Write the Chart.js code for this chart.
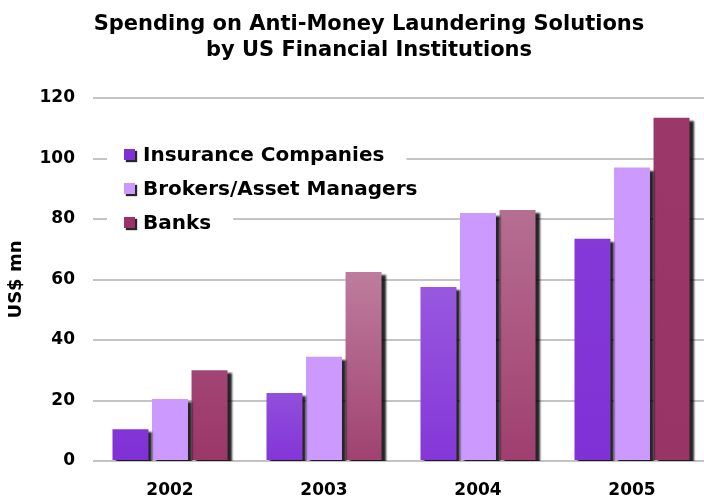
<!DOCTYPE html>
<html>
<head>
<meta charset="utf-8">
<script src="https://cdn.jsdelivr.net/npm/chart.js@4"></script>
<style>
  html, body { margin: 0; padding: 0; background: #fff; overflow: hidden; }
  #wrap { width: 712px; height: 499px; }
</style>
</head>
<body>
<div id="wrap"><canvas id="amlChart" width="712" height="499"></canvas></div>
<script>
// data (US$ mn)
const years = ['2002', '2003', '2004', '2005'];
const insurance = [10.5, 22.5, 57.5, 73.5];
const brokers = [20.5, 34.5, 82, 97];
const banks = [30, 62.5, 83, 113.5];
const seriesNames = ['Insurance Companies', 'Brokers/Asset Managers', 'Banks'];
const titleLines = ['Spending on Anti-Money Laundering Solutions', 'by US Financial Institutions'];

const baseColors = ['#7F2FD6', '#CC99FF', '#993366'];
const glow = [0.3, 0, 0.45];   // how much a bar top lightens near the highlight
const FONT = '"DejaVu Sans", Verdana, sans-serif';

function mix(hex, amount) {
    const n = parseInt(hex.slice(1), 16);
    const r = (n >> 16) & 255, g = (n >> 8) & 255, b = n & 255;
    const m = function (c) { return Math.round(c + (255 - c) * amount); };
    return 'rgb(' + m(r) + ',' + m(g) + ',' + m(b) + ')';
}

// vertical gradient per bar; tops near the middle of the plot are lighter
function barFill(i) {
    return function (context) {
        const chart = context.chart;
        if (!chart.chartArea || context.raw == null || glow[i] === 0) return baseColors[i];
        const y = chart.scales.y;
        const top = y.getPixelForValue(context.raw);
        const bottom = y.getPixelForValue(0);
        const meta = chart.getDatasetMeta(context.datasetIndex);
        const el = meta.data[context.dataIndex];
        const cx = el && isFinite(el.x) ? el.x : chart.scales.x.getPixelForValue(context.dataIndex);
        const d = Math.hypot(cx - 380, top - 255);
        const f = Math.max(0, 1 - d / 300);
        const g = chart.ctx.createLinearGradient(0, top, 0, bottom);
        g.addColorStop(0, mix(baseColors[i], glow[i] * f));
        g.addColorStop(1, mix(baseColors[i], glow[i] * f * 0.2));
        return g;
    };
}

// black drop shadow under the bars
const barShadow = {
    id: 'barShadow',
    beforeDatasetsDraw(chart) {
        const ctx = chart.ctx;
        ctx.save();
        ctx.shadowColor = 'rgba(0,0,0,0.85)';
        ctx.shadowBlur = 2;
        ctx.shadowOffsetX = 4;
        ctx.shadowOffsetY = 3;
    },
    afterDatasetsDraw(chart) {
        chart.ctx.restore();
    }
};

// title and the legend sitting inside the plot
const overlay = {
    id: 'overlay',
    afterDraw(chart) {
        const ctx = chart.ctx;
        ctx.save();
        ctx.fillStyle = '#000';
        ctx.textAlign = 'center';
        ctx.textBaseline = 'middle';
        ctx.font = 'bold 21px ' + FONT;
        ctx.fillText(titleLines[0], 369, 25);
        ctx.fillText(titleLines[1], 369, 51);

        ctx.font = 'bold 20px ' + FONT;
        ctx.textAlign = 'left';
        const rowY = [155, 189, 223];
        chart.data.datasets.forEach(function (ds, i) {
            const w = ctx.measureText(ds.label).width;
            ctx.fillStyle = '#fff';
            ctx.fillRect(107, rowY[i] - 13, 143 + w + 22 - 107, 26);
            ctx.save();
            ctx.shadowColor = 'rgba(0,0,0,0.85)';
            ctx.shadowBlur = 1;
            ctx.shadowOffsetX = 2;
            ctx.shadowOffsetY = 2;
            ctx.fillStyle = baseColors[i];
            ctx.fillRect(124, rowY[i] - 6, 11, 11);
            ctx.restore();
            ctx.fillStyle = '#000';
            ctx.fillText(ds.label, 143, rowY[i] + 1);
        });
        ctx.restore();
    }
};

new Chart('amlChart', {
    type: 'bar',
    data: {
        labels: years,
        datasets: [
            { label: seriesNames[0], data: insurance, backgroundColor: barFill(0) },
            { label: seriesNames[1], data: brokers, backgroundColor: barFill(1) },
            { label: seriesNames[2], data: banks, backgroundColor: barFill(2) }
        ]
    },
    options: {
        responsive: false,
        animation: false,
        categoryPercentage: 0.77,
        barPercentage: 0.91,
        layout: { padding: { top: 98, left: 6, right: 3, bottom: 0 } },
        plugins: {
            legend: { display: false },
            title: { display: false },
            tooltip: { enabled: false }
        },
        scales: {
            x: {
                grid: { display: false },
                border: { display: false },
                ticks: { color: '#000', padding: 11, font: { family: FONT, size: 17, weight: 'bold' } },
                afterFit(scale) { scale.height = 38; }
            },
            y: {
                min: 0,
                max: 120,
                ticks: { stepSize: 20, color: '#000', padding: 18, font: { family: FONT, size: 17, weight: 'bold' } },
                grid: { color: '#C4C4C4', lineWidth: 2, drawTicks: false },
                border: { display: false },
                title: { display: true, text: 'US$ mn', color: '#000', padding: 0, font: { family: FONT, size: 18, weight: 'bold' } },
                afterFit(scale) { scale.width = 87; }
            }
        }
    },
    plugins: [barShadow, overlay]
});
</script>
</body>
</html>
